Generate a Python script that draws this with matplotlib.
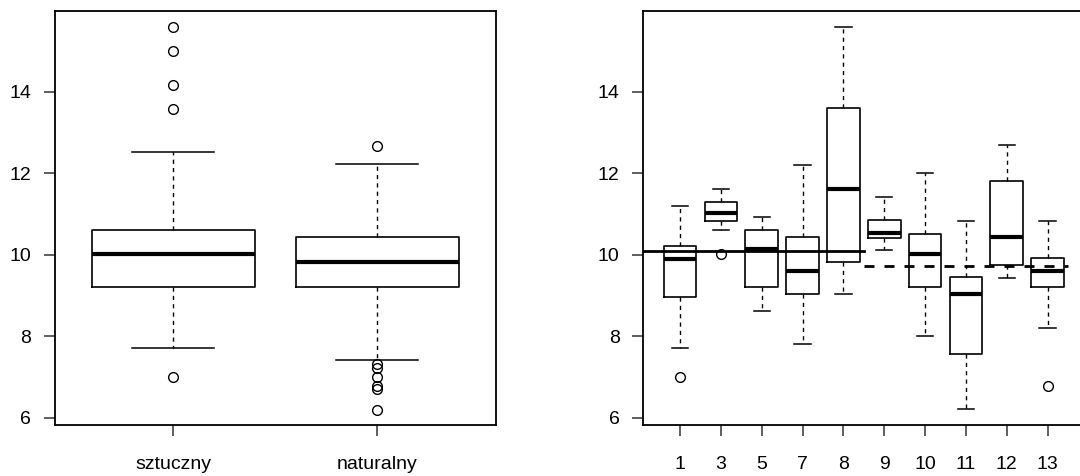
import matplotlib
matplotlib.use("Agg")
import matplotlib.pyplot as plt

plt.rcParams['font.family'] = ['Liberation Sans', 'DejaVu Sans']

# lewy panel: rodzaj
left_labels = ['sztuczny', 'naturalny']
left_whislo = [7.71, 7.41]
left_q1 = [9.22, 9.22]
left_med = [10.03, 9.81]
left_q3 = [10.61, 10.43]
left_whishi = [12.51, 12.22]
left_fliers = [[15.58, 14.99, 14.16, 13.58, 6.99],
                [12.67, 7.31, 7.22, 6.99, 6.79, 6.71, 6.20]]

# prawy panel: grupy
right_labels = ['1', '3', '5', '7', '8', '9', '10', '11', '12', '13']
right_whislo = [7.71, 10.61, 8.63, 7.81, 9.03, 10.12, 8.01, 6.21, 9.42, 8.20]
right_q1 = [8.96, 10.83, 9.22, 9.03, 9.81, 10.42, 9.22, 7.56, 9.76, 9.22]
right_med = [9.89, 11.02, 10.14, 9.61, 11.60, 10.53, 10.03, 9.03, 10.43, 9.61]
right_q3 = [10.22, 11.29, 10.61, 10.43, 13.61, 10.86, 10.52, 9.45, 11.81, 9.92]
right_whishi = [11.20, 11.60, 10.92, 12.21, 15.59, 11.41, 12.00, 10.83, 12.69, 10.83]
right_fliers = [[6.99], [10.02], [], [], [], [], [], [], [], [6.77]]

# srednie dla obu rodzajow
mean_sztuczny = 10.10
mean_naturalny = 9.73


def make_stats(labels, lo, q1, med, q3, hi, fl):
    out = []
    for i in range(len(labels)):
        out.append(dict(label=labels[i], whislo=lo[i], q1=q1[i], med=med[i],
                        q3=q3[i], whishi=hi[i], fliers=fl[i]))
    return out


def r_box(ax, stats):
    ax.bxp(stats, widths=0.8, showfliers=True, patch_artist=False,
           boxprops=dict(color='black', linewidth=1.2),
           medianprops=dict(color='black', linewidth=3.0, solid_capstyle='butt'),
           whiskerprops=dict(color='black', linewidth=1.0, linestyle=(0, (3, 3))),
           capprops=dict(color='black', linewidth=1.1),
           capwidths=0.4,
           flierprops=dict(marker='o', markerfacecolor='none', markeredgecolor='black',
                           markersize=7, markeredgewidth=1.0))
    ax.set_ylim(5.824, 15.976)
    ax.set_yticks([6, 8, 10, 12, 14])
    for s in ax.spines.values():
        s.set_linewidth(1.3)
    ax.tick_params(axis='both', length=8, width=1.1, labelsize=14, color='#333333')
    ax.tick_params(axis='x', pad=14.5)
    ax.tick_params(axis='y', pad=9)


fig = plt.figure(figsize=(10.8, 4.76), dpi=100)

ax1 = fig.add_axes([0.0509, 0.1071, 0.408, 0.8697])
r_box(ax1, make_stats(left_labels, left_whislo, left_q1, left_med, left_q3, left_whishi, left_fliers))
ax1.set_xlim(0.42, 2.58)

ax2 = fig.add_axes([0.5957, 0.1071, 0.4083, 0.8697])
r_box(ax2, make_stats(right_labels, right_whislo, right_q1, right_med, right_q3, right_whishi, right_fliers))
ax2.set_xlim(0.1, 10.9)
ax2.plot([0, 5.5], [mean_sztuczny, mean_sztuczny], color='black', linewidth=2.0)
ax2.plot([5.5, 10.5], [mean_naturalny, mean_naturalny], color='black', linewidth=2.0,
         linestyle=(0, (3.6, 3.6)))

fig.savefig('out.png', dpi=100)
